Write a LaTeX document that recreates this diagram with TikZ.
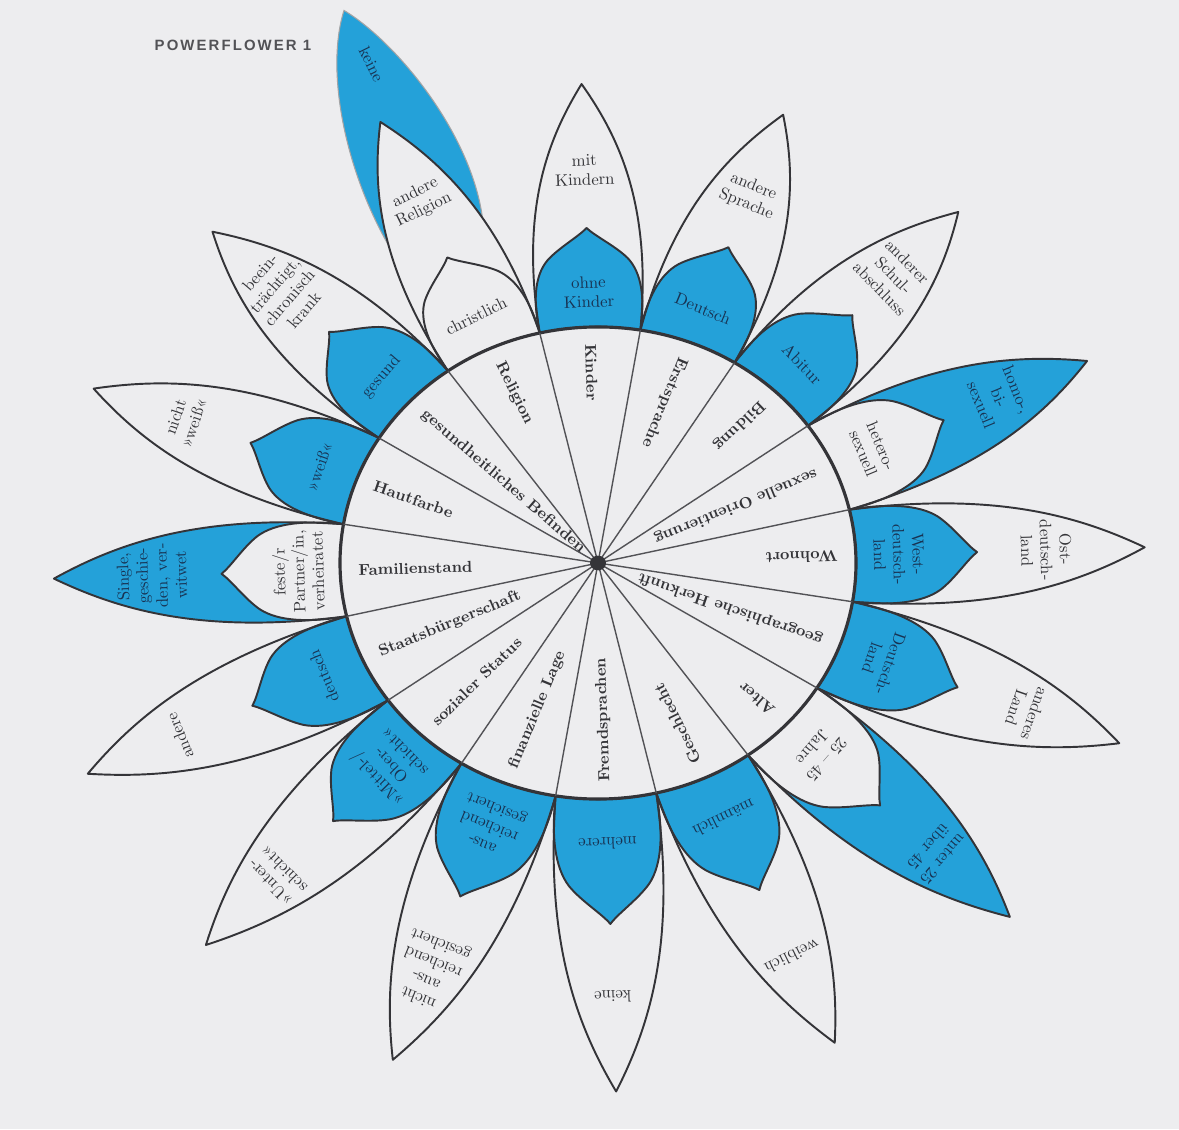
\documentclass[tikz,border=0pt]{standalone}
\usepackage{fontspec}
\newfontfamily\headfont[LetterSpace=14]{Liberation Sans}

\definecolor{paper}{RGB}{237,237,239}
\definecolor{marker}{RGB}{36,161,217}
\definecolor{ink}{RGB}{52,52,56}
\definecolor{inkblue}{RGB}{24,50,82}

% petal outlines in the frame of one sector (axis along x, circle radius 258)
\newcommand{\outerleaf}[1]{(253.04,-50.33) .. controls ({253+0.5*(#1-253)},-66) and ({#1-0.22*(#1-253)},-36) .. (#1,0)
  .. controls ({#1-0.22*(#1-253)},36) and ({253+0.5*(#1-253)},66) .. (253.04,50.33)
  arc[start angle=11.25, end angle=-11.25, radius=258] -- cycle}
\newcommand{\innerleaf}[1]{(253.04,-50.33) .. controls ({253+0.3*(#1-253)},-56) and ({253+0.55*(#1-253)},-54) .. ({253+0.7*(#1-253)},-40)
  .. controls ({253+0.82*(#1-253)},-28) and ({253+0.92*(#1-253)},-8) .. (#1,0)
  .. controls ({253+0.92*(#1-253)},8) and ({253+0.82*(#1-253)},28) .. ({253+0.7*(#1-253)},40)
  .. controls ({253+0.55*(#1-253)},54) and ({253+0.3*(#1-253)},56) .. (253.04,50.33)
  arc[start angle=11.25, end angle=-11.25, radius=258] -- cycle}

% angle / outer tip / inner tip / which petal is marked / category / inner petal / outer petal
\newcommand{\powerdata}{%
  0/2.12/1.47/0/Wohnort/{West-\\deutsch-\\land}/{Ost-\\deutsch-\\land},
  22.5/2.08/1.47/1/sexuelle Orientierung/{hetero-\\sexuell}/{homo-,\\bi-\\sexuell},
  45/2.04/1.44/0/Bildung/Abitur/{anderer\\Schul-\\abschluss},
  67.5/2.03/1.43/0/Erstsprache/Deutsch/{andere\\Sprache},
  90/2.03/1.42/0/Kinder/{ohne\\Kinder}/{mit\\Kindern},
  112.5/2.05/1.42/2/Religion/christlich/{andere\\Religion},
  135/2.05/1.43/0/gesundheitliches Befinden/gesund/{beein-\\trächtigt,\\chronisch\\krank},
  157.5/2.09/1.44/0/Hautfarbe/»weiß«/{nicht\\»weiß«},
  180/2.11/1.46/1/Familienstand/{feste/r\\Partner/in,\\verheiratet}/{Single,\\geschie-\\den, ver-\\witwet},
  202.5/2.17/1.47/0/Staatsbürgerschaft/deutsch/andere,
  225/2.22/1.50/0/sozialer Status/{»Mittel-/\\Ober-\\schicht«}/{»Unter-\\schicht«},
  247.5/2.25/1.51/0/finanzielle Lage/{aus-\\reichend\\gesichert}/{nicht\\aus-\\reichend\\gesichert},
  270/2.24/1.53/0/Fremdsprachen/mehrere/keine,
  292.5/2.23/1.52/0/Geschlecht/männlich/weiblich,
  315/2.19/1.50/1/Alter/{25 – 45\\Jahre}/{unter 25\\über 45},
  337.5/2.16/1.49/0/geographische Herkunft/{Deutsch-\\land}/{anderes\\Land}}

\begin{document}
\begin{tikzpicture}[x=0.02cm, y=0.02cm,
    leaf/.style={draw=ink, line width=1.1pt, line join=round},
    ring/.style={draw=ink, line width=1.8pt},
    spoke/.style={draw=ink!85, line width=0.8pt},
    catlabel/.style={font=\fontsize{9}{10}\selectfont\bfseries, text=ink, anchor=west, inner sep=0pt},
    petlabel/.style={font=\fontsize{9.5}{11}\selectfont, align=center, inner sep=1pt},
    heading/.style={font=\headfont\bfseries\fontsize{8.5}{10}\selectfont, text=ink!85}]
    \fill[paper] (0,0) rectangle (1179,1129);
    \useasboundingbox (0,0) rectangle (1179,1129);
    \node[heading] (title) at (233,1084) {POWERFLOWER 1};

    \begin{scope}[shift={(598,566)}, yscale=0.915, rotate=1.8]
        % petals
        \foreach \a/\lo/\li/\ob/\lbl/\pin/\pout in \powerdata {
            \pgfmathsetmacro\Lo{\lo*258}
            \pgfmathsetmacro\Li{\li*258}
            \begin{scope}[rotate=\a]
                \ifcase\ob
                    \fill[marker] \innerleaf{\Li};
                \or
                    \fill[marker] \outerleaf{\Lo};
                    \fill[paper] \innerleaf{\Li};
                \else
                    % hand-drawn extra petal beyond "andere Religion"
                    \fill[marker] (380,-46) .. controls (470,-80) and (600,-52) .. (655,-17)
                        .. controls (600,30) and (480,58) .. (380,46) -- cycle;
                    \draw[ink!45, line width=0.6pt] (380,-46) .. controls (470,-80) and (600,-52) .. (655,-17)
                        .. controls (600,30) and (480,58) .. (380,46);
                    \fill[paper] \outerleaf{\Lo};
                \fi
                \draw[leaf] \outerleaf{\Lo};
                \draw[leaf] \innerleaf{\Li};
            \end{scope}
        }
        \draw[ring, fill=paper] (0,0) circle[radius=258];
        \foreach \b in {11.25,33.75,...,348.75}
            \draw[spoke] (0,0) -- (\b:258);
        \fill[ink] (0,0) circle[radius=8];

        % labels
        \foreach \a/\lo/\li/\ob/\lbl/\pin/\pout [count=\i] in \powerdata {
            \pgfmathsetmacro\va{atan2(0.915*sin(\a+1.8),cos(\a+1.8))}
            \pgfmathsetmacro\xi{253+0.38*(\li*258-253)}
            \pgfmathsetmacro\xo{0.82*\lo*258}
            \ifcase\ob \def\ic{inkblue}\def\oc{ink}\or \def\ic{ink}\def\oc{inkblue}\else \def\ic{ink}\def\oc{ink}\fi
            \begin{scope}[rotate=\a]
                \node[catlabel, rotate=\va+180] (cat\i) at (240,0) {\lbl};
                \node[petlabel, text=\ic, rotate=\va-90] (near\i) at (\xi,0) {\pin};
                \node[petlabel, text=\oc, rotate=\va-90] (far\i) at (\xo,0) {\pout};
            \end{scope}
        }
        \begin{scope}[rotate=112.5]
            \node[petlabel, text=inkblue, rotate=-63.7] (noreligion) at (590,-18) {keine};
        \end{scope}
    \end{scope}
\end{tikzpicture}
\end{document}
